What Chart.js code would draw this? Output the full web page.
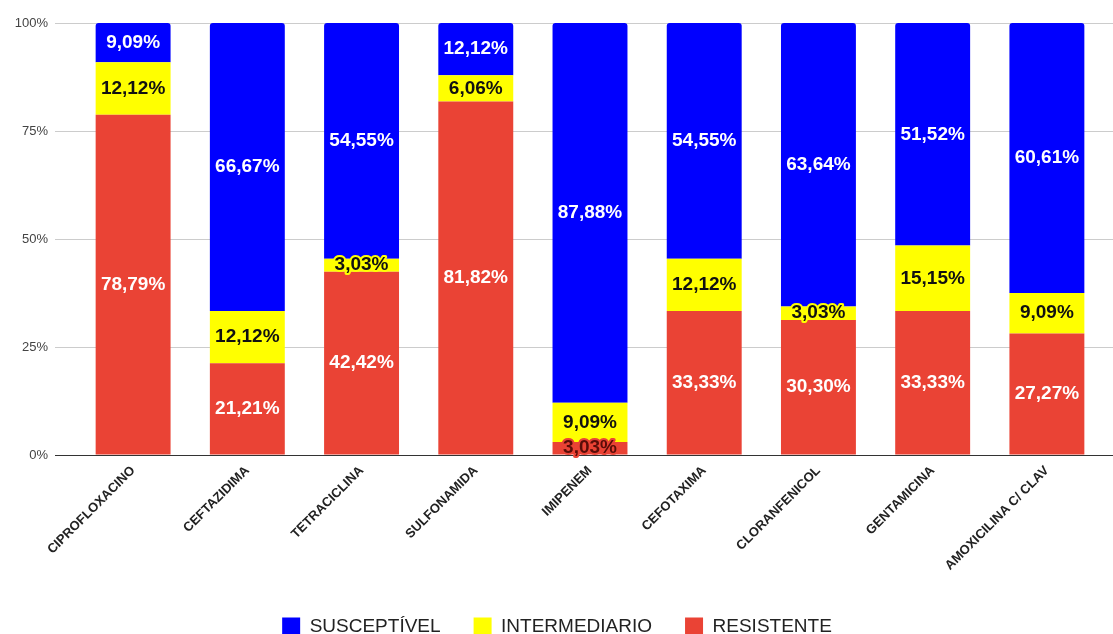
<!DOCTYPE html>
<html>
<head>
    <title>Perfil de susceptibilidade</title>
    <script src="https://cdn.jsdelivr.net/npm/chart.js"></script>
    <style>
        body { margin: 0; background: #fff; }
    </style>
</head>
<body>
    <canvas id="resChart" width="1113" height="634"></canvas>

    <script>
        const categories = ['CIPROFLOXACINO', 'CEFTAZIDIMA', 'TETRACICLINA', 'SULFONAMIDA', 'IMIPENEM',
            'CEFOTAXIMA', 'CLORANFENICOL', 'GENTAMICINA', 'AMOXICILINA C/ CLAV'];
        const resistente = [78.79, 21.21, 42.42, 81.82, 3.03, 33.33, 30.30, 33.33, 27.27];
        const intermediario = [12.12, 12.12, 3.03, 6.06, 9.09, 12.12, 3.03, 15.15, 9.09];
        const susceptivel = [9.09, 66.67, 54.55, 12.12, 87.88, 54.55, 63.64, 51.52, 60.61];
        const yTicks = [0, 25, 50, 75, 100];

        const FONT = '"Liberation Sans", Arial, sans-serif';

        // bars are stacked to 100% (percent stacking), labels keep the raw values
        const totals = categories.map((c, i) => resistente[i] + intermediario[i] + susceptivel[i]);
        const toPercent = arr => arr.map((v, i) => v / totals[i] * 100);

        // value labels inside each segment
        const valueLabels = {
            id: 'valueLabels',
            afterDatasetsDraw(chart) {
                const ctx = chart.ctx;
                ctx.save();
                ctx.font = 'bold 19px ' + FONT;
                ctx.textAlign = 'center';
                ctx.textBaseline = 'middle';
                ctx.lineJoin = 'round';
                chart.data.datasets.forEach((ds, i) => {
                    const meta = chart.getDatasetMeta(i);
                    meta.data.forEach((bar, j) => {
                        const v = ds.raw[j];
                        const txt = v.toFixed(2).replace('.', ',') + '%';
                        const y = (bar.y + bar.base) / 2;
                        if (v < 5) {
                            ctx.lineWidth = 4;
                            ctx.strokeStyle = ds.backgroundColor;
                            ctx.strokeText(txt, bar.x, y);
                            ctx.fillStyle = ds.smallColor;
                        } else {
                            ctx.fillStyle = ds.labelColor;
                        }
                        ctx.fillText(txt, bar.x, y);
                    });
                });
                ctx.restore();
            }
        };

        // grid lines run a bit past the plot on the right
        const gridTail = {
            id: 'gridTail',
            beforeDatasetsDraw(chart) {
                const ctx = chart.ctx;
                const y = chart.scales.y;
                ctx.save();
                ctx.lineWidth = 1;
                yTicks.forEach(t => {
                    const py = Math.round(y.getPixelForValue(t) - 0.5) + 0.5;
                    ctx.strokeStyle = t === 0 ? '#333' : '#ccc';
                    ctx.beginPath();
                    ctx.moveTo(chart.chartArea.right, py);
                    ctx.lineTo(chart.width, py);
                    ctx.stroke();
                });
                ctx.restore();
            }
        };

        new Chart(document.getElementById('resChart'), {
            type: 'bar',
            data: {
                labels: categories,
                datasets: [
                    { label: 'RESISTENTE', data: toPercent(resistente), raw: resistente,
                      backgroundColor: '#EA4335', labelColor: '#fff', smallColor: '#5a0d08' },
                    { label: 'INTERMEDIARIO', data: toPercent(intermediario), raw: intermediario,
                      backgroundColor: '#FFFF00', labelColor: '#111', smallColor: '#111' },
                    { label: 'SUSCEPTÍVEL', data: toPercent(susceptivel), raw: susceptivel,
                      backgroundColor: '#0000FF', labelColor: '#fff', smallColor: '#fff',
                      borderRadius: { topLeft: 3, topRight: 3 }, borderSkipped: 'bottom' }
                ]
            },
            options: {
                responsive: false,
                animation: false,
                barPercentage: 0.656,
                categoryPercentage: 1,
                layout: { padding: { left: 10, right: 9, top: 23, bottom: -12 } },
                plugins: {
                    tooltip: { enabled: false },
                    legend: {
                        position: 'bottom',
                        reverse: true,
                        labels: {
                            boxWidth: 18,
                            boxHeight: 18,
                            padding: 33,
                            color: '#222',
                            font: { family: FONT, size: 19 }
                        }
                    }
                },
                scales: {
                    x: {
                        stacked: true,
                        grid: { display: false },
                        border: { display: false },
                        ticks: {
                            autoSkip: false,
                            maxRotation: 45,
                            minRotation: 45,
                            padding: 0,
                            color: '#222',
                            font: { family: FONT, size: 13, weight: 'bold' }
                        },
                        afterFit(axis) { axis.height = 129; }
                    },
                    y: {
                        stacked: true,
                        min: 0,
                        max: 100,
                        afterBuildTicks(axis) { axis.ticks = yTicks.map(v => ({ value: v })); },
                        ticks: {
                            padding: 7,
                            color: '#444',
                            font: { family: FONT, size: 13 },
                            callback: v => v + '%'
                        },
                        grid: {
                            tickLength: 21,
                            color: c => c.tick && c.tick.value === 0 ? '#333' : '#ccc'
                        },
                        border: { display: false },
                        afterFit(axis) { axis.width = 66; }
                    }
                }
            },
            plugins: [valueLabels, gridTail]
        });
    </script>
</body>
</html>
